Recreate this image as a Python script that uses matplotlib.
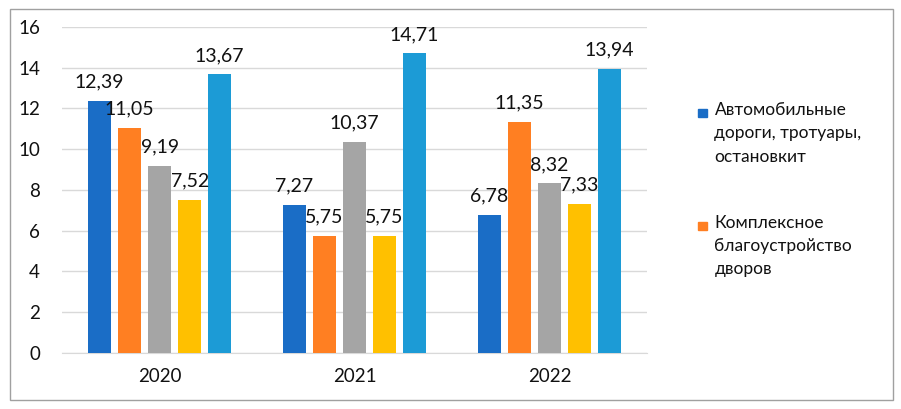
import matplotlib.pyplot as plt
import numpy as np
from matplotlib.patches import Rectangle

years = ["2020", "2021", "2022"]
series_names = ["Автомобильные\nдороги, тротуары,\nостановкит",
                "Комплексное\nблагоустройство\nдворов"]
values = [
    [12.39, 7.27, 6.78],
    [11.05, 5.75, 11.35],
    [9.19, 10.37, 8.32],
    [7.52, 5.75, 7.33],
    [13.67, 14.71, 13.94],
]
colors = ["#1A6DC6", "#FF7F22", "#A5A5A5", "#FFC000", "#1C9BD6"]

plt.rcParams['font.family'] = ['Lato', 'DejaVu Sans']

fig = plt.figure(figsize=(9.01, 4.09), dpi=100)
ax = fig.add_axes([0.069, 0.137, 0.649, 0.797])

x = np.arange(len(years))
w = 0.118
step = 0.154
for i, vals in enumerate(values):
    bars = ax.bar(x + (i - 2) * step, vals, w, color=colors[i], zorder=3)
    for b, v in zip(bars, vals):
        ax.text(b.get_x() + b.get_width() / 2, v + 0.5,
                ("%.2f" % v).replace(".", ","), ha="center", va="bottom",
                fontsize=14, color="#111111", zorder=4)

ax.set_xlim(-0.5, 2.5)
ax.set_ylim(0, 16)
ax.set_yticks(range(0, 17, 2))
ax.set_xticks(x)
ax.set_xticklabels(years)
ax.yaxis.grid(True, color="#D9D9D9", linewidth=1, zorder=0)
for s in ["top", "right", "left"]:
    ax.spines[s].set_visible(False)
ax.spines["bottom"].set_color("#D9D9D9")
ax.tick_params(axis="both", length=0, labelsize=13.5, colors="#111111")
ax.tick_params(axis="y", pad=16)
ax.tick_params(axis="x", pad=11)

# legend (only two entries shown, as in the original)
tops = [0.75, 0.474]
for name, c, t in zip(series_names, colors, tops):
    fig.patches.append(Rectangle((0.775, t - 0.037), 0.0095, 0.021,
                                 transform=fig.transFigure, color=c))
    fig.text(0.793, t, name, ha="left", va="top", fontsize=12.5,
             linespacing=1.55, color="#111111")

fig.patches.append(Rectangle((0.011, 0.022), 0.98, 0.956, transform=fig.transFigure,
                             fill=False, edgecolor="#A0A0A0", linewidth=1))

fig.savefig("out.png", dpi=100)
